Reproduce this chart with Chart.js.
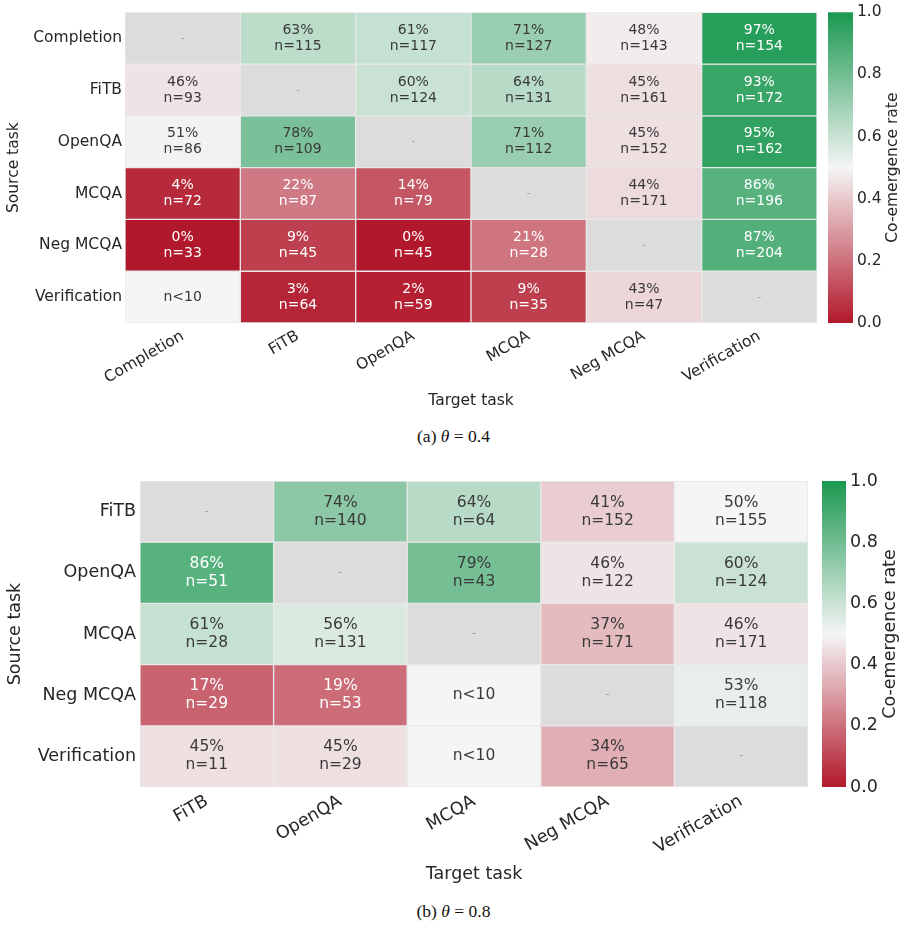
<!DOCTYPE html>
<html>
<head>
<meta charset="utf-8">
<script src="https://cdn.jsdelivr.net/npm/chart.js@4.4.1/dist/chart.umd.min.js"></script>
<style>
  body { margin: 0; background: #fff; width: 907px; height: 928px; position: relative; overflow: hidden; }
  .panel { position: absolute; left: 0; width: 907px; }
  .cap { position: absolute; left: 0; width: 907px; text-align: center; font-family: 'Liberation Serif', 'DejaVu Serif', serif; font-size: 17.5px; color: #111; }
</style>
</head>
<body>
<div class="panel" style="top:0;height:420px"><canvas id="heatA"></canvas></div>
<div class="cap" style="top:426px">(a) <i>θ</i> = 0.4</div>
<div class="panel" style="top:460px;height:430px"><canvas id="heatB"></canvas></div>
<div class="cap" style="top:901px">(b) <i>θ</i> = 0.8</div>
<script>
// panel (a): theta = 0.4, rows = source task, columns = target task
const tasksA = ['Completion', 'FiTB', 'OpenQA', 'MCQA', 'Neg MCQA', 'Verification'];
const ratesA = [
  [null, 63, 61, 71, 48, 97],
  [46, null, 60, 64, 45, 93],
  [51, 78, null, 71, 45, 95],
  [4, 22, 14, null, 44, 86],
  [0, 9, 0, 21, null, 87],
  [null, 3, 2, 9, 43, null]
];
const countsA = [
  [null, 115, 117, 127, 143, 154],
  [93, null, 124, 131, 161, 172],
  [86, 109, null, 112, 152, 162],
  [72, 87, 79, null, 171, 196],
  [33, 45, 45, 28, null, 204],
  ['<10', 64, 59, 35, 47, null]
];

// panel (b): theta = 0.8
const tasksB = ['FiTB', 'OpenQA', 'MCQA', 'Neg MCQA', 'Verification'];
const ratesB = [
  [null, 74, 64, 41, 50],
  [86, null, 79, 46, 60],
  [61, 56, null, 37, 46],
  [17, 19, null, null, 53],
  [45, 45, null, 34, null]
];
const countsB = [
  [null, 140, 64, 152, 155],
  [51, null, 43, 122, 124],
  [28, 131, null, 171, 171],
  [29, 53, '<10', null, 118],
  [11, 29, '<10', 65, null]
];

const colorTicks = [0, 0.2, 0.4, 0.6, 0.8, 1.0];

Chart.defaults.font.family = "'DejaVu Sans', sans-serif";
const labelColor = '#262626';

// red -> whitesmoke -> green
function rateColor(t) {
  const lo = [178, 24, 43], mid = [245, 245, 245], hi = [26, 152, 80];
  const [a, b, f] = t < 0.5 ? [lo, mid, t / 0.5] : [mid, hi, (t - 0.5) / 0.5];
  return 'rgb(' + a.map((v, k) => Math.round(v + (b[k] - v) * f)).join(',') + ')';
}

const heatPlugin = {
  id: 'heat',
  afterDatasetsDraw(chart, args, opts) {
    const { ctx } = chart;
    const g = opts.g;
    ctx.save();
    ctx.textAlign = 'center';
    ctx.textBaseline = 'middle';
    chart.data.datasets.forEach((ds, i) => {
      chart.getDatasetMeta(i).data.forEach((el, j) => {
        const r = opts.rates[i][j], n = opts.counts[i][j];
        const cx = el.x, cy = (el.y + el.base) / 2;
        if (r === null && n === null) {
          ctx.fillStyle = '#a0a0a0';
          ctx.font = (g.cell - 4) + "px 'DejaVu Sans'";
          ctx.fillText('-', cx, cy);
        } else if (r === null) {
          ctx.fillStyle = '#3a3a3a';
          ctx.font = g.cell + "px 'DejaVu Sans'";
          ctx.fillText('n' + n, cx, cy);
        } else {
          const t = r / 100;
          ctx.fillStyle = (t < 0.25 || t > 0.8) ? '#ffffff' : '#3a3a3a';
          ctx.font = g.cell + "px 'DejaVu Sans'";
          ctx.fillText(r + '%', cx, cy - g.lineGap / 2);
          ctx.fillText('n=' + n, cx, cy + g.lineGap / 2);
        }
      });
    });
    ctx.restore();
  },
  afterDraw(chart, args, opts) {
    const { ctx, chartArea } = chart;
    const g = opts.g;
    const s = chart.scales.y2;
    const yTop = s.getPixelForValue(1), yBot = s.getPixelForValue(0);
    const x0 = chartArea.right + g.barGap;
    const grad = ctx.createLinearGradient(0, yBot, 0, yTop);
    grad.addColorStop(0, rateColor(0));
    grad.addColorStop(0.5, rateColor(0.5));
    grad.addColorStop(1, rateColor(1));
    ctx.save();
    ctx.fillStyle = grad;
    ctx.fillRect(x0, yTop, g.barWidth, yBot - yTop);
    ctx.translate(chartArea.right + g.titleOffset, (yTop + yBot) / 2);
    ctx.rotate(-Math.PI / 2);
    ctx.fillStyle = labelColor;
    ctx.font = g.font + "px 'DejaVu Sans'";
    ctx.textAlign = 'center';
    ctx.textBaseline = 'middle';
    ctx.fillText('Co-emergence rate', 0, 0);
    ctx.restore();
  }
};

function makeHeatmap(id, tasks, rates, counts, g) {
  const font = { size: g.font };
  return new Chart(document.getElementById(id), {
    type: 'bar',
    data: {
      labels: tasks,
      datasets: tasks.map((row, i) => ({
        label: row,
        data: tasks.map(() => [i, i + 1]),
        backgroundColor: rates[i].map((r, j) =>
          r !== null ? rateColor(r / 100) : (counts[i][j] === null ? '#dcdcdc' : '#f5f5f5')),
        borderColor: '#e8e8e8',
        borderWidth: 1,
        borderSkipped: false,
        barPercentage: 1,
        categoryPercentage: 1,
        grouped: false
      }))
    },
    options: {
      responsive: true,
      maintainAspectRatio: false,
      animation: false,
      layout: { padding: { top: g.top, right: 0, bottom: 0, left: 0 } },
      plugins: {
        legend: { display: false },
        tooltip: { enabled: false },
        heat: { rates, counts, g }
      },
      scales: {
        x: {
          type: 'category',
          grid: { display: false, drawTicks: false, tickLength: 0 },
          border: { display: false },
          ticks: { color: labelColor, font, minRotation: 30, maxRotation: 30, padding: g.xPad, autoSkip: false },
          title: { display: true, text: 'Target task', color: labelColor, font, padding: { top: 0, bottom: g.xTitlePad } },
          afterFit: s => { s.height = g.xHeight; s.paddingLeft = 0; s.paddingRight = 0; }
        },
        y: {
          type: 'linear',
          min: 0,
          max: tasks.length,
          reverse: true,
          grid: { display: false, drawTicks: false, tickLength: 0 },
          border: { display: false },
          afterBuildTicks: s => { s.ticks = tasks.map((t, i) => ({ value: i + 0.5 })); },
          ticks: { color: labelColor, font, padding: g.yPad, autoSkip: false, callback: v => tasks[Math.floor(v)] },
          title: { display: true, text: 'Source task', color: labelColor, font, padding: { top: g.yTitlePad, bottom: 0 } },
          afterFit: s => { s.width = g.yWidth; }
        },
        y2: {
          type: 'linear',
          position: 'right',
          min: 0,
          max: 1,
          grid: { display: true, drawOnChartArea: false, drawTicks: true, tickLength: g.cbTick, color: 'rgba(0,0,0,0)' },
          border: { display: false },
          afterBuildTicks: s => { s.ticks = colorTicks.map(v => ({ value: v })); },
          ticks: { color: labelColor, font, padding: 4, callback: v => v.toFixed(1) },
          afterFit: s => { s.width = g.cbWidth; s.paddingTop = 0; s.paddingBottom = 0; }
        }
      }
    },
    plugins: [heatPlugin]
  });
}

makeHeatmap('heatA', tasksA, ratesA, countsA, {
  top: 11, yWidth: 125, xHeight: 97, cbWidth: 90, cbTick: 36, barGap: 11, barWidth: 25, titleOffset: 76,
  font: 15.5, cell: 14, lineGap: 16, xPad: 4, yPad: 3, yTitlePad: 5, xTitlePad: 10
});
makeHeatmap('heatB', tasksB, ratesB, countsB, {
  top: 21, yWidth: 140, xHeight: 103, cbWidth: 99, cbTick: 38, barGap: 14, barWidth: 24, titleOffset: 82,
  font: 17.5, cell: 15.5, lineGap: 18, xPad: 4, yPad: 4, yTitlePad: 5, xTitlePad: 5
});
</script>
</body>
</html>
